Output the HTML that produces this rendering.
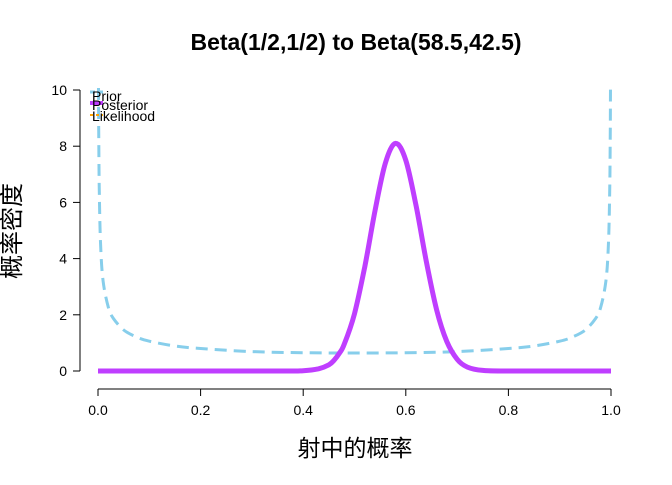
<!DOCTYPE html>
<html><head><meta charset="utf-8"><style>
body{margin:0;background:#fff}
svg text{font-family:"Liberation Sans","Noto Sans CJK SC",sans-serif}
</style></head><body>
<svg id="c" width="672" height="480" xmlns="http://www.w3.org/2000/svg">
<text x="356" y="50" text-anchor="middle" font-size="23" font-weight="bold">Beta(1/2,1/2) to Beta(58.5,42.5)</text>
<text x="355" y="456" text-anchor="middle" font-size="23">射中的概率</text>
<text transform="translate(20,231) rotate(-90)" text-anchor="middle" font-size="24">概率密度</text>
<g id="axes"></g>
<g id="series"></g>
<g>
<line x1="90" y1="92" x2="103" y2="92" stroke="#87CEEB" stroke-width="3" stroke-dasharray="5,3"/>
<text x="92" y="101" font-size="14">Prior</text>
<line x1="90" y1="103" x2="103" y2="103" stroke="#BF3EFF" stroke-width="4"/>
<text x="92" y="110" font-size="14">Posterior</text>
<line x1="90" y1="115" x2="103" y2="115" stroke="#FFA500" stroke-width="2" stroke-dasharray="3,3"/>
<text x="92" y="121" font-size="14">Likelihood</text>
</g>
</svg>
<script>
const xTicks=[0,0.2,0.4,0.6,0.8,1.0];
const xTickLabels=["0.0","0.2","0.4","0.6","0.8","1.0"];
const yTicks=[0,2,4,6,8,10];
const priorX=[0.001,0.0015,0.0025,0.005,0.01,0.02,0.03,0.05,0.075,0.1,0.15,0.2,0.3,0.4,0.5,0.6,0.7,0.8,0.85,0.9,0.925,0.95,0.97,0.98,0.99,0.995,0.9975,0.9985,0.999];
const priorY=[10.07,8.2,6.4,4.5,3.2,2.27,1.87,1.46,1.21,1.06,0.89,0.80,0.69,0.65,0.64,0.65,0.69,0.80,0.89,1.06,1.21,1.46,1.87,2.27,3.2,4.5,6.4,8.2,10.07];
const postX=[0,0.35,0.40,0.43,0.45,0.46,0.47,0.48,0.50,0.52,0.54,0.56,0.58,0.60,0.62,0.64,0.66,0.68,0.70,0.72,0.75,0.8,1];
const postY=[0,0,0.01,0.08,0.22,0.38,0.62,0.95,2.04,3.71,5.7,7.39,8.1,7.5,5.88,3.9,2.18,1.05,0.42,0.14,0.02,0,0];
const NS="http://www.w3.org/2000/svg";
const sx=v=>98+v*513, sy=v=>371-v*28.1;
function mk(t,a,p){const e=document.createElementNS(NS,t);for(const k in a)e.setAttribute(k,a[k]);p.appendChild(e);return e;}
const ax=document.getElementById('axes'), se=document.getElementById('series');
let e=mk('line',{x1:sx(0),x2:sx(1),y1:389,y2:389,stroke:'#000'},ax);


xTicks.forEach((v,i)=>{mk('line',{x1:sx(v),x2:sx(v),y1:389,y2:396,stroke:'#000'},ax);
const t=mk('text',{x:sx(v),y:415,'text-anchor':'middle','font-size':14},ax);t.textContent=xTickLabels[i];

});
e=mk('line',{x1:80,x2:80,y1:sy(0),y2:sy(10),stroke:'#000'},ax);


yTicks.forEach(v=>{mk('line',{x1:73,x2:80,y1:sy(v),y2:sy(v),stroke:'#000'},ax);
const t=mk('text',{x:67,y:sy(v)+5,'text-anchor':'end','font-size':14},ax);t.textContent=v;

});
function smooth(X,Y){
  const P=X.map((x,i)=>[sx(x),sy(Math.min(Y[i],10.1))]);
  let d='M'+P[0][0].toFixed(1)+','+P[0][1].toFixed(1);
  for(let i=0;i<P.length-1;i++){
    const p0=P[Math.max(0,i-1)],p1=P[i],p2=P[i+1],p3=P[Math.min(P.length-1,i+2)];
    const c1=[p1[0]+(p2[0]-p0[0])/6,p1[1]+(p2[1]-p0[1])/6];
    const c2=[p2[0]-(p3[0]-p1[0])/6,p2[1]-(p3[1]-p1[1])/6];
    c1[0]=Math.min(Math.max(c1[0],p1[0]),p2[0]);c2[0]=Math.min(Math.max(c2[0],p1[0]),p2[0]);
    c1[1]=Math.min(c1[1],371);c2[1]=Math.min(c2[1],371);
    d+=' C'+c1.map(v=>v.toFixed(1))+' '+c2.map(v=>v.toFixed(1))+' '+p2.map(v=>v.toFixed(1));
  }
  return d;
}
e=mk('path',{d:smooth(priorX,priorY),fill:'none',stroke:'#87CEEB','stroke-width':3,'stroke-dasharray':'12,7'},se);


e=mk('path',{d:smooth(postX,postY),fill:'none',stroke:'#BF3EFF','stroke-width':5,'stroke-linejoin':'round'},se);


</script>
</body></html>
